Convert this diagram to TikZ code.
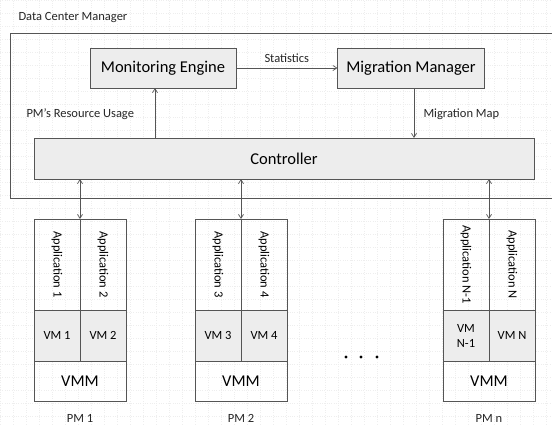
\documentclass[tikz,border=0pt]{standalone}
\usepackage{fontspec}
\setmainfont{Carlito}
\usetikzlibrary{arrows.meta,positioning}
\definecolor{linegray}{HTML}{555555}
\definecolor{boxfill}{HTML}{EDEDED}
\definecolor{gridgray}{HTML}{EEEEEE}
\tikzset{
  unitbox/.style={draw=linegray, line width=0.9pt, fill=boxfill, inner sep=0pt, outer sep=0pt, font=\fontsize{16.5}{19}\selectfont},
  cell/.style={draw=linegray, line width=0.9pt, inner sep=0pt, outer sep=0pt, minimum width=46pt},
  appcell/.style={cell, minimum height=91pt, font=\fontsize{12.5}{14}\selectfont},
  vmcell/.style={cell, fill=boxfill, minimum height=51pt, align=center, font=\fontsize{12.5}{15}\selectfont},
  vmmcell/.style={cell, minimum width=92pt, minimum height=40pt, font=\fontsize{16.5}{19}\selectfont},
  flow/.style={linegray, line width=0.7pt, -{Straight Barb[length=4pt,width=5pt]}},
  bothflow/.style={flow, {Straight Barb[length=4pt,width=5pt]}-{Straight Barb[length=4pt,width=5pt]}},
  flowtext/.style={font=\fontsize{12.5}{14}\selectfont, text=black!85}
}

\begin{document}
\begin{tikzpicture}[x=1pt, y=-1pt]
  \clip (0,0) rectangle (552,424);
  \fill[white] (0,0) rectangle (552,424);
  % faint background grid
  \draw[gridgray, dotted, line width=0.3pt] (0,0) grid[step=13pt] (552,424);

  % data center manager
  \node[flowtext, anchor=west] (dcmtitle) at (15,18) {Data Center Manager};
  \draw[linegray, line width=0.9pt] (10,33) rectangle (560,198);

  \node[unitbox, minimum width=146pt, minimum height=40pt] (mon) at (163,68) {Monitoring Engine};
  \node[unitbox, minimum width=147pt, minimum height=40pt] (mig) at (411,68) {Migration Manager};
  \node[unitbox, minimum width=500pt, minimum height=41pt] (ctrl) at (284,158.5) {Controller};

  \draw[flow] (mon) -- node[flowtext, above=2pt] (stat) {Statistics} (mig);
  \draw[flow] (ctrl.north -| 155,0) -- (mon.south -| 155,0);
  \draw[flow] (mig.south -| 414,0) -- (ctrl.north -| 414,0);
  \node[flowtext, anchor=west] (usage) at (23,114) {PM’s Resource Usage};
  \node[flowtext, anchor=west] (mmap) at (420,114) {Migration Map};

  % physical machines
  \foreach \x/\n/\a/\b/\va/\vb/\pm in {34/1/Application 1/Application 2/VM 1/VM 2/PM 1,
                                       195/2/Application 3/Application 4/VM 3/VM 4/PM 2,
                                       443/3/Application N-1/Application N/{VM\\N-1}/VM N/PM n}{
    \node[appcell] (appa\n) at (\x+23,264.5) {\rotatebox{-90}{\a}};
    \node[appcell] (appb\n) at (\x+69,264.5) {\rotatebox{-90}{\b}};
    \node[vmcell] (vma\n) at (\x+23,335.5) {\va};
    \node[vmcell] (vmb\n) at (\x+69,335.5) {\vb};
    \node[vmmcell] (vmm\n) at (\x+46,381) {VMM};
    \node[flowtext] (pm\n) at (\x+46,418) {\pm};
    \draw[bothflow] (ctrl.south -| appa\n.north east) -- (appa\n.north east);
  }

  \foreach \d in {346,361,377}
    \fill[black] (\d,357) circle (1.6pt);
\end{tikzpicture}
\end{document}
